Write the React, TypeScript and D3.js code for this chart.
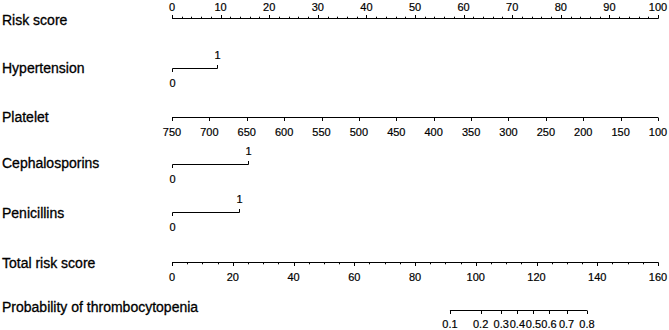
import React, { useEffect, useRef } from 'react';
import * as d3 from 'd3';

// Nomogram values
const riskScoreTicks = [0, 10, 20, 30, 40, 50, 60, 70, 80, 90, 100];
const plateletTicks = [750, 700, 650, 600, 550, 500, 450, 400, 350, 300, 250, 200, 150, 100];
const totalScoreTicks = [0, 20, 40, 60, 80, 100, 120, 140, 160];
const probabilityTicks = [0.1, 0.2, 0.3, 0.4, 0.5, 0.6, 0.7, 0.8];
// total risk score at which each probability tick sits
const probabilityTotals = [91.5, 101.6, 108.4, 113.7, 119.0, 124.1, 129.9, 136.6];

const binaryNames = ['Hypertension', 'Cephalosporins', 'Penicillins'];
const binaryLevels = ['0', '1'];
const binaryPoints = [9.2, 15.7, 13.8];

const FONT = '"Liberation Sans", Arial, Helvetica, sans-serif';

const App: React.FC = () => {
  const ref = useRef<SVGSVGElement | null>(null);

  useEffect(() => {
    const svg = d3.select(ref.current);
    svg.selectAll('*').remove();

    const x0 = 172;
    const x1 = 658;

    // Scales
    const pointsScale = d3.scaleLinear().domain([0, 100]).range([x0, x1]);
    const plateletScale = d3.scaleLinear().domain([750, 100]).range([x0, x1]);
    const totalScale = d3.scaleLinear().domain([0, 160]).range([x0, x1]);
    const probScale = d3
      .scaleLinear()
      .domain(probabilityTicks)
      .range(probabilityTotals.map((t) => totalScale(t)));

    const title = (text: string, y: number) =>
      svg
        .append('text')
        .attr('x', 2)
        .attr('y', y)
        .attr('font-family', FONT)
        .attr('font-size', 14)
        .attr('fill', '#000')
        .attr('stroke', '#000')
        .attr('stroke-width', 0.3)
        .text(text);

    const drawAxis = (
      scale: (v: number) => number,
      ticks: number[],
      labels: string[],
      y: number,
      up: boolean,
      minor: number[] = [],
      labelGap = 18.5
    ) => {
      const g = svg.append('g');
      const dir = up ? -1 : 1;
      const xs = ticks.map(scale);
      g.append('line')
        .attr('x1', d3.min(xs)!)
        .attr('x2', d3.max(xs)!)
        .attr('y1', y)
        .attr('y2', y)
        .attr('stroke', '#000')
        .attr('stroke-width', 1);
      g.selectAll('.minor')
        .data(minor)
        .enter()
        .append('line')
        .attr('x1', (d) => Math.round(scale(d)) + 0.5)
        .attr('x2', (d) => Math.round(scale(d)) + 0.5)
        .attr('y1', y)
        .attr('y2', y + dir * 1.8)
        .attr('stroke', '#000');
      g.selectAll('.major')
        .data(ticks)
        .enter()
        .append('line')
        .attr('x1', (d) => Math.round(scale(d)) + 0.5)
        .attr('x2', (d) => Math.round(scale(d)) + 0.5)
        .attr('y1', y)
        .attr('y2', y + dir * 3.5)
        .attr('stroke', '#000');
      g.selectAll('text')
        .data(ticks)
        .enter()
        .append('text')
        .attr('x', (d) => scale(d))
        .attr('y', up ? y - 7.5 : y + labelGap)
        .attr('text-anchor', 'middle')
        .attr('font-family', FONT)
        .attr('font-size', 11)
        .attr('fill', '#000')
        .attr('stroke', '#000')
        .attr('stroke-width', 0.2)
        .text((_, i) => labels[i]);
    };

    // Risk score
    title('Risk score', 25);
    drawAxis(
      pointsScale,
      riskScoreTicks,
      riskScoreTicks.map(String),
      18.5,
      true,
      d3.range(0, 101, 2)
    );

    // Binary predictors
    const binaryRows = [68.5, 164.5, 212.5];
    const binaryTitleY = [73, 168, 218];
    binaryNames.forEach((name, i) => {
      const y = binaryRows[i];
      title(name, binaryTitleY[i]);
      const xa = Math.round(pointsScale(0)) + 0.5;
      const xb = Math.round(pointsScale(binaryPoints[i])) + 0.5;
      const g = svg.append('g');
      g.append('line').attr('x1', xa).attr('x2', xb).attr('y1', y).attr('y2', y).attr('stroke', '#000');
      g.append('line').attr('x1', xa).attr('x2', xa).attr('y1', y).attr('y2', y + 3.5).attr('stroke', '#000');
      g.append('line').attr('x1', xb).attr('x2', xb).attr('y1', y).attr('y2', y - 3.5).attr('stroke', '#000');
      g.append('text')
        .attr('x', xa)
        .attr('y', y + 18.5)
        .attr('text-anchor', 'middle')
        .attr('font-family', FONT)
        .attr('font-size', 11)
        .attr('stroke', '#000')
        .attr('stroke-width', 0.2)
        .text(binaryLevels[0]);
      g.append('text')
        .attr('x', xb)
        .attr('y', y - 9.5)
        .attr('text-anchor', 'middle')
        .attr('font-family', FONT)
        .attr('font-size', 11)
        .attr('stroke', '#000')
        .attr('stroke-width', 0.2)
        .text(binaryLevels[1]);
    });

    // Platelet
    title('Platelet', 122);
    drawAxis(plateletScale, plateletTicks, plateletTicks.map(String), 117.5, false);

    // Total risk score
    title('Total risk score', 268);
    drawAxis(
      totalScale,
      totalScoreTicks,
      totalScoreTicks.map(String),
      262.5,
      false,
      d3.range(0, 161, 5)
    );

    // Probability
    title('Probability of thrombocytopenia', 312);
    drawAxis(
      probScale,
      probabilityTicks,
      probabilityTicks.map((d) => d.toString()),
      310.5,
      false,
      [],
      17
    );
  }, []);

  return (
    <svg
      ref={ref}
      width={669}
      height={330}
      style={{ position: 'absolute', left: 0, top: 0, background: '#fff' }}
    />
  );
};

export default App;
